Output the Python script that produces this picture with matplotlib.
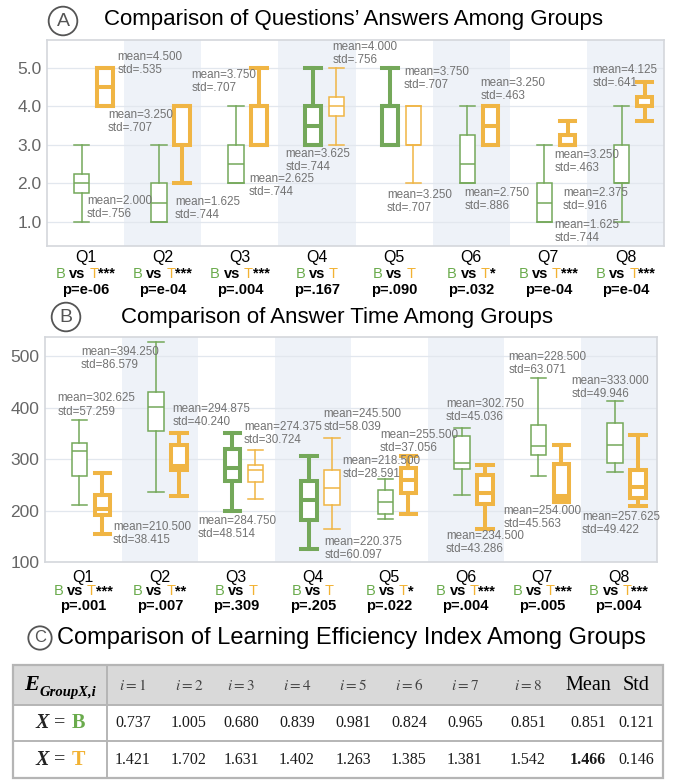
import matplotlib
matplotlib.use("Agg")
import matplotlib.pyplot as plt
from matplotlib.patches import Rectangle

plt.rcParams["font.family"] = ["Liberation Sans", "DejaVu Sans"]
plt.rcParams["mathtext.fontset"] = "stix"

W, H = 678, 781

questions = ["Q1", "Q2", "Q3", "Q4", "Q5", "Q6", "Q7", "Q8"]

# ---- A: answers, box summaries (whislo, q1, med, q3, whishi)
ans_B = [
    (1, 1.75, 2, 2.25, 3),
    (1, 1, 1.5, 2, 3),
    (2, 2, 2.5, 3, 4),
    (3, 3, 3.5, 4, 5),
    (3, 3, 4, 4, 5),
    (2, 2, 2.5, 3.25, 4),
    (1, 1, 1.5, 2, 3),
    (1, 2, 2, 3, 4),
]
ans_T = [
    (4, 4, 4.5, 5, 5),
    (2, 3, 4, 4, 4),
    (3, 3, 4, 4, 5),
    (3, 3.75, 4, 4.25, 5),
    (2, 3, 3, 4, 4),
    (3, 3, 3.5, 4, 4),
    (3, 3, 3, 3.25, 3.625),
    (3.625, 4, 4, 4.25, 4.625),
]
ans_B_mean = [2.000, 1.625, 2.625, 3.625, 3.750, 2.750, 1.625, 2.375]
ans_B_std = [0.756, 0.744, 0.744, 0.744, 0.707, 0.886, 0.744, 0.916]
ans_T_mean = [4.500, 3.250, 3.750, 4.000, 3.250, 3.250, 3.250, 4.125]
ans_T_std = [0.535, 0.707, 0.707, 0.756, 0.707, 0.463, 0.463, 0.641]
ans_stars = ["***", "***", "***", "", "", "*", "***", "***"]
ans_p = ["e-06", "e-04", ".004", ".167", ".090", ".032", "e-04", "e-04"]

# ---- B: answer time (s), box summaries
time_B = [
    (210, 268, 315, 332, 375),
    (236, 354, 402, 431, 527),
    (199, 257, 282, 320, 351),
    (125, 182, 220, 257, 305),
    (183, 194, 217, 240, 262),
    (230, 281, 292, 344, 361),
    (267, 307, 325, 367, 458),
    (274, 292, 328, 370, 412),
]
time_T = [
    (154, 191, 202, 230, 273),
    (228, 278, 286, 328, 351),
    (222, 255, 278, 289, 317),
    (165, 210, 244, 278, 341),
    (194, 234, 260, 283, 305),
    (165, 212, 234, 269, 288),
    (216, 225, 229, 291, 328),
    (209, 225, 246, 278, 347),
]
time_B_mean = [302.625, 394.250, 284.750, 220.375, 218.500, 302.750, 228.500, 333.000]
time_B_std = [57.259, 86.579, 48.514, 60.097, 28.591, 45.036, 63.071, 49.946]
time_T_mean = [210.500, 294.875, 274.375, 245.500, 255.500, 234.500, 254.000, 257.625]
time_T_std = [38.415, 40.240, 30.724, 58.039, 37.056, 43.286, 45.563, 49.422]
time_stars = ["***", "**", "", "", "*", "***", "***", "***"]
time_p = [".001", ".007", ".309", ".205", ".022", ".004", ".005", ".004"]

# ---- C: learning efficiency index
eff_B = [0.737, 1.005, 0.680, 0.839, 0.981, 0.824, 0.965, 0.851]
eff_T = [1.421, 1.702, 1.631, 1.402, 1.263, 1.385, 1.381, 1.542]
eff_B_stats = [0.851, 0.121]
eff_T_stats = [1.466, 0.146]

# styling / layout
GREEN, ORANGE = "#74a85a", "#f0b544"
GREEN_TXT, ORANGE_TXT = "#6aab4c", "#f2b233"
BAND, GRID = "#eef2f8", "#e2e7ee"
LABEL_C = "#737373"
OFF_B, OFF_T, BOX_W = -0.05, 0.25, 0.2
ans_thick_B = [0, 0, 0, 1, 1, 0, 0, 0]
ans_thick_T = [1, 1, 1, 0, 0, 1, 1, 1]
time_thick_B = [0, 0, 1, 1, 0, 0, 0, 0]
time_thick_T = [1, 1, 0, 0, 1, 1, 1, 1]
ans_lab_B = [(0.02, 1.38), (1.16, 1.35), (2.12, 1.95), (2.59, 2.59),
             (4.13, 4.72), (4.91, 1.59), (6.08, 0.74), (6.19, 1.57)]
ans_lab_T = [(0.41, 5.11), (0.29, 3.61), (1.37, 4.66), (3.20, 5.37),
             (3.91, 1.52), (5.12, 4.45), (6.08, 2.57), (6.57, 4.77)]
time_lab_B = [(-0.34, 405), (-0.03, 495), (1.50, 167), (3.15, 127),
              (3.39, 284), (4.74, 395), (5.56, 486), (6.38, 439)]
time_lab_T = [(0.39, 155), (1.17, 385), (2.10, 350), (3.14, 375),
              (3.88, 334), (4.74, 137), (5.49, 187), (6.52, 175)]

layout_groups = []


def add_parts(ax, xy, xycoords, dy, parts, size, family="Liberation Sans", va="center"):
    arts = []
    for text, gap, kw in parts:
        kw = dict(kw)
        ddy = kw.pop("dy", 0)
        a = ax.annotate(text, xy=xy, xycoords=xycoords, xytext=(0, dy + ddy),
                        textcoords="offset points", ha="left", va=va,
                        fontsize=kw.pop("size", size), family=family, **kw)
        arts.append((a, gap, dy + ddy))
    layout_groups.append(arts)


def finish_layout(fig):
    fig.canvas.draw()
    r = fig.canvas.get_renderer()
    k = 72.0 / fig.dpi
    for arts in layout_groups:
        widths = [a.get_window_extent(r).width * k for a, _, _ in arts]
        total = sum(widths) + sum(g for _, g, _ in arts[:-1])
        x = -total / 2
        for (a, g, dy), w in zip(arts, widths):
            a.xyann = (x, dy)
            x += w + g


def draw_boxes(ax, summaries, thick, offset, color):
    for i, (s, t) in enumerate(zip(summaries, thick)):
        lo, q1, med, q3, hi = s
        lw = 2.9 if t else 1.1
        ax.bxp([dict(whislo=lo, q1=q1, med=med, q3=q3, whishi=hi)],
               positions=[i + offset], widths=BOX_W, capwidths=[BOX_W],
               showfliers=False, patch_artist=True, manage_ticks=False,
               boxprops=dict(facecolor="white", edgecolor=color, linewidth=lw),
               whiskerprops=dict(color=color, linewidth=lw),
               capprops=dict(color=color, linewidth=lw),
               medianprops=dict(color=color, linewidth=lw), zorder=3)


def draw_panel(ax, sum_B, sum_T, thick_B, thick_T, ylim, yticks, ylabels):
    ax.set_xlim(-0.5, 7.5)
    ax.set_ylim(*ylim)
    for i in range(1, 8, 2):
        ax.axvspan(i - 0.5, i + 0.5, color=BAND, lw=0, zorder=0)
    ax.set_yticks(yticks)
    ax.set_yticklabels(ylabels)
    ax.set_xticks([])
    ax.grid(axis="y", color=GRID, lw=0.9)
    ax.set_axisbelow(True)
    ax.tick_params(axis="y", length=0, labelsize=12.5, labelcolor="#666666", pad=4)
    for sp in ax.spines.values():
        sp.set_color("#d4d7dc")
        sp.set_linewidth(1.2)
    draw_boxes(ax, sum_B, thick_B, OFF_B, GREEN)
    draw_boxes(ax, sum_T, thick_T, OFF_T, ORANGE)


def mean_labels(ax, pos, means, stds, std_fmt):
    for (x, y), m, s in zip(pos, means, stds):
        ax.text(x, y, f"mean={m:.3f}\nstd={std_fmt(s)}", ha="left", va="center",
                fontsize=8.4, color=LABEL_C, linespacing=1.12, zorder=4)


def bottom_labels(ax, stars, pvals, dys):
    tr = ax.get_xaxis_transform()
    for i, (q, st, p) in enumerate(zip(questions, stars, pvals)):
        ax.annotate(q, xy=(i, 0), xycoords=tr, xytext=(0, -dys[0]),
                    textcoords="offset points", ha="center", va="center", fontsize=11.5)
        parts = [("B", 2.6, dict(color=GREEN_TXT)),
                 ("vs", 2.6, dict(color="black", fontweight="bold")),
                 ("T", 0, dict(color=ORANGE_TXT))]
        if st:
            parts.append((st, 0, dict(color="black", fontweight="bold")))
        add_parts(ax, (i, 0), tr, -dys[1], parts, 10.5)
        ax.annotate("p=" + p, xy=(i, 0), xycoords=tr, xytext=(0, -dys[2]),
                    textcoords="offset points", ha="center", va="center",
                    fontsize=10.5, fontweight="bold")


def circled(fig, x, y, letter, size, pad):
    fig.text(x / W, 1 - y / H, letter, ha="center", va="center", fontsize=size, color="#555555",
             bbox=dict(boxstyle=f"circle,pad={pad}", fc="white", ec="#555555", lw=1.3))


fig = plt.figure(figsize=(W / 100, H / 100), dpi=100)

# ----- panel A
axA = fig.add_axes([47 / W, 1 - 246 / H, 617 / W, 206 / H])
draw_panel(axA, ans_B, ans_T, ans_thick_B, ans_thick_T, (0.37, 5.73),
           [1, 2, 3, 4, 5], ["1.0", "2.0", "3.0", "4.0", "5.0"])
mean_labels(axA, ans_lab_B, ans_B_mean, ans_B_std, lambda s: f"{s:.3f}".lstrip("0"))
mean_labels(axA, ans_lab_T, ans_T_mean, ans_T_std, lambda s: f"{s:.3f}".lstrip("0"))
bottom_labels(axA, ans_stars, ans_p, (8, 20, 32))
circled(fig, 63, 21, "A", 14, 0.3)
fig.text(104 / W, 1 - 20 / H, "Comparison of Questions’ Answers Among Groups",
         fontsize=16, ha="left", va="center")

# ----- panel B
axB = fig.add_axes([45 / W, 1 - 562 / H, 612 / W, 225 / H])
draw_panel(axB, time_B, time_T, time_thick_B, time_thick_T, (100, 537),
           [100, 200, 300, 400, 500], ["100", "200", "300", "400", "500"])
mean_labels(axB, time_lab_B, time_B_mean, time_B_std, lambda s: f"{s:.3f}")
mean_labels(axB, time_lab_T, time_T_mean, time_T_std, lambda s: f"{s:.3f}")
bottom_labels(axB, time_stars, time_p, (11, 21, 32))
circled(fig, 66, 317, "B", 14, 0.3)
fig.text(121 / W, 1 - 318 / H, "Comparison of Answer Time Among Groups",
         fontsize=16, ha="left", va="center")

# ----- panel C (table)
circled(fig, 40, 638, "C", 12, 0.25)
fig.text(57 / W, 1 - 638 / H, "Comparison of Learning Efficiency Index Among Groups",
         fontsize=17, ha="left", va="center")

axT = fig.add_axes([0, 0, 1, 131 / H])
axT.set_xlim(0, W)
axT.set_ylim(781, 650)
axT.axis("off")
left, right, top, r1, r2, bottom, col0 = 13, 663, 665, 705, 741, 778, 107
axT.add_patch(Rectangle((left, top), right - left, r1 - top, fc="#d9d9d9", ec="none"))
axT.add_patch(Rectangle((left, top), right - left, bottom - top, fc="none", ec="#b5b5b5", lw=1.6))
axT.hlines([r1, r2], left, right, color="#b5b5b5", lw=1.4)
axT.vlines(col0, top, bottom, color="#b5b5b5", lw=1.4)

col_x = [133, 189, 241, 297, 353, 409, 465, 528, 588, 636]
row_y = [686, 723, 760]
headers = [f"$i = {k}$" for k in range(1, 9)]
for x, h in zip(col_x, headers):
    axT.text(x, row_y[0], h, ha="center", va="center", fontsize=11, color="#444444")
for x, h in zip(col_x[8:], ["Mean", "Std"]):
    axT.text(x, row_y[0], h, ha="center", va="center", fontsize=14.5, family="Liberation Serif")

serif = "Liberation Serif"
add_parts(axT, (60, row_y[0] + 4), "data", 0,
          [("E", 0.5, dict(size=16, fontweight="bold", fontstyle="italic")),
           ("GroupX,i", 0, dict(size=10.5, fontweight="bold", fontstyle="italic", dy=-4))],
          16, family=serif, va="baseline")
for y, vals, stats, name, col in ((row_y[1], eff_B, eff_B_stats, "B", GREEN_TXT),
                                  (row_y[2], eff_T, eff_T_stats, "T", ORANGE_TXT)):
    add_parts(axT, (60, y), "data", 0,
              [("X", 4, dict(fontstyle="italic", fontweight="bold", color="#222222")),
               ("=", 4, dict(color="#222222")),
               (name, 0, dict(fontweight="bold", color=col))], 14.5, family=serif)
    cells = list(vals) + list(stats)
    for j, (x, v) in enumerate(zip(col_x, cells)):
        bold = name == "T" and j == 8
        axT.text(x, y, f"{v:.3f}", ha="center", va="center", fontsize=11.5, family=serif,
                 color="#1a1a1a", fontweight="bold" if bold else "normal")

finish_layout(fig)
fig.savefig("out.png", dpi=100)
